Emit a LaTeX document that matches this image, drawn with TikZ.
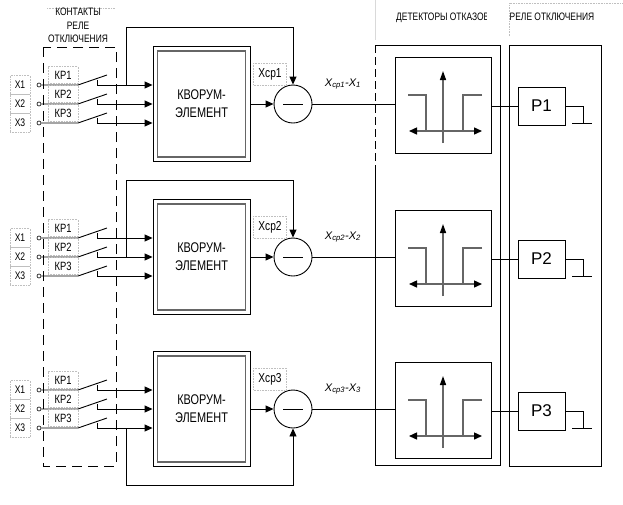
\documentclass[tikz,border=0pt]{standalone}
\usepackage{fontspec}
\setmainfont{Liberation Sans}[FakeStretch=0.78]
\newfontfamily\widefont{Liberation Sans}
\usetikzlibrary{arrows.meta}
\begin{document}
\begin{tikzpicture}[x=1pt,y=-1pt,
  ln/.style={line width=0.9pt,draw=black},
  arr/.style={-{Triangle[length=8pt,width=7pt]}},
  tipped/.style={{Triangle[length=8pt,width=7pt,color=black]}-{Triangle[length=8pt,width=7pt,color=black]}},
  uptip/.style={-{Triangle[length=9pt,width=6pt,color=black]}},
  faint/.style={draw=black!25,densely dotted,line width=0.6pt},
  hdr/.style={inner sep=0pt,font=\fontsize{10.8}{12}\selectfont},
  xlbl/.style={faint,minimum width=20pt,minimum height=19pt,inner sep=0pt,font=\fontsize{11}{13}\selectfont},
  kplbl/.style={faint,minimum width=30pt,minimum height=17pt,inner sep=0pt,font=\fontsize{12}{14}\selectfont},
  xclbl/.style={faint,minimum width=33pt,minimum height=22pt,inner sep=0pt,font=\fontsize{13}{15}\selectfont},
  difflbl/.style={inner sep=0pt,font=\widefont\itshape\fontsize{11}{13}\selectfont},
  term/.style={circle,draw=black,line width=0.6pt,fill=white,minimum size=4pt,inner sep=0pt},
  kvbox/.style={draw=black,line width=0.9pt,minimum width=97pt,minimum height=115pt,align=center,inner sep=0pt,font=\fontsize{14}{16}\selectfont},
  subnode/.style={circle,draw=black,line width=0.9pt,minimum size=38pt,inner sep=0pt},
  detbox/.style={draw=black,line width=0.9pt,minimum width=96pt,minimum height=96pt,inner sep=0pt},
  pbox/.style={draw=black,line width=0.9pt,minimum width=47pt,minimum height=38pt,inner sep=0pt,font=\widefont\fontsize{17}{19}\selectfont},
  grayln/.style={draw=black!60,line width=1.4pt}
]
\useasboundingbox (0,0) rectangle (623,504);
\fill[white] (0,0) rectangle (623,504);

% headers
\draw[faint] (47,8) -- (115,8);
\node[hdr] (hk1) at (78,12) {КОНТАКТЫ};
\node[hdr] (hk2) at (78,26) {РЕЛЕ};
\node[hdr] (hk3) at (78,39) {ОТКЛЮЧЕНИЯ};
\draw[draw=black!15,line width=0.6pt] (375,0) -- (375,40);
\begin{scope}
\clip (376,0) rectangle (486,40);
\node[hdr,anchor=west] (hd) at (396,18) {ДЕТЕКТОРЫ ОТКАЗОВ};
\end{scope}
\draw[faint] (509,36) -- (509,3) -- (623,3);
\node[hdr] (hr) at (552,17) {РЕЛЕ ОТКЛЮЧЕНИЯ};

% contacts frame
\draw[ln,dash pattern=on 10pt off 6pt] (43,47) rectangle (116,466);

% columns
\draw[ln] (375,165) -- (375,465) -- (500,465) -- (500,45) -- (375,45);
\draw[ln,dash pattern=on 8pt off 4pt] (375,45) -- (375,165);
\draw[ln] (509,45) rectangle (601,466);

\foreach \r/\yc/\fy/\fz/\an in {1/104/-19/-77/north, 2/257/0/-77/north, 3/409/19/76/south} {
  % kvorum element
  \node[kvbox] (kv\r) at (201.5,\yc) {КВОРУМ-\\[2pt]ЭЛЕМЕНТ};
  \draw[draw=black!60,line width=1.4pt] ([shift={(5,5)}]kv\r.north west) rectangle ([shift={(-5,-5)}]kv\r.south east);
  % inputs
  \foreach \i/\dy in {1/-19,2/0,3/19} {
    \node[xlbl] (x\r\i) at (20,\yc+\dy) {X\i};
    \node[kplbl] (kp\r\i) at (63,\yc+\dy-10) {КР\i};
    \node[term] (t\r\i) at (39,\yc+\dy) {};
    \coordinate (b\r\i) at (78,\yc+\dy);
    \coordinate (e\r\i) at (107,\yc+\dy-10);
    \coordinate (c\r\i) at (97,\yc+\dy);
    \coordinate (ct\r\i) at (97,\yc+\dy-5);
    \draw[ln] (t\r\i) -- (b\r\i) -- (e\r\i);
    \draw[ln] (ct\r\i) -- (c\r\i);
    \draw[ln,arr] (c\r\i) -- (kv\r.west |- c\r\i);
  }
  % subtractor
  \node[subnode] (cs\r) at (293,\yc) {};
  \draw[ln] ([xshift=-10pt]cs\r.center) -- ([xshift=10pt]cs\r.center);
  \draw[ln,arr] (kv\r.east) -- (cs\r.west);
  \node[xclbl] (xc\r) at (270,\yc-30) {Xср\r};
  % feedback
  \coordinate (fa\r) at (126,\yc+\fy);
  \coordinate (fb\r) at (126,\yc+\fz);
  \draw[ln,arr] (fa\r) -- (fb\r) -| (cs\r.\an);
  \node[difflbl] (dl\r) at (343,\yc-20) {X\textsubscript{ср\r}-X\textsubscript{\r}};
  % detector
  \node[detbox] (det\r) at (443,\yc+1) {};
  \draw[grayln,uptip] (443,\yc+39) -- (443,\yc-33);
  \draw[grayln,tipped] (409,\yc+27) -- (482,\yc+27);
  \draw[grayln] (408,\yc-9) -- (426,\yc-9) -- (426,\yc+27);
  \draw[grayln] (482,\yc-9) -- (463,\yc-9) -- (463,\yc+27);
  \draw[ln] (cs\r.east) -- (det\r.west |- cs\r.east);
  % relay
  \node[pbox] (p\r) at (541.5,\yc+2) {Р\r};
  \draw[ln] (det\r.east |- p\r.west) -- (p\r.west);
  \coordinate (g\r) at (583,\yc+19);
  \coordinate (gl\r) at (572,\yc+19);
  \coordinate (gr\r) at (592,\yc+19);
  \draw[ln] (p\r.east) -| (g\r);
  \draw[ln] (gl\r) -- (gr\r);
}
\end{tikzpicture}
\end{document}
